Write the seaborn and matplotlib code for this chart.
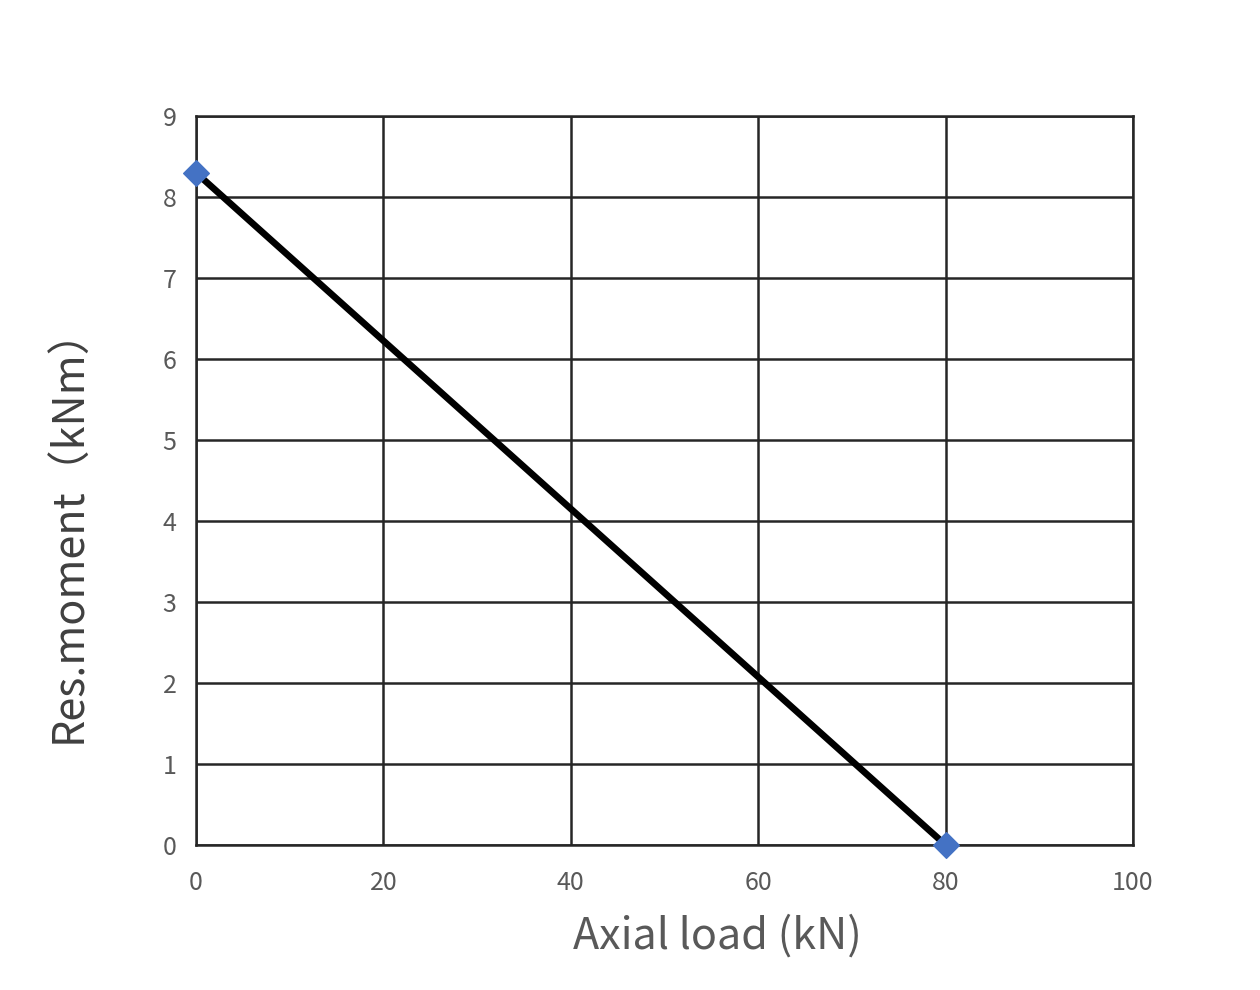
import matplotlib
matplotlib.use("Agg")
import matplotlib.pyplot as plt
import seaborn as sns
import pandas as pd

axial_load = [0, 80]
res_moment = [8.3, 0]
x_ticks = [0, 20, 40, 60, 80, 100]
y_ticks = [0, 1, 2, 3, 4, 5, 6, 7, 8, 9]

sns.set_theme(style="white")
plt.rcParams['font.family'] = ['Noto Sans CJK SC', 'DejaVu Sans']

df = pd.DataFrame({"x": axial_load, "y": res_moment})

fig = plt.figure(figsize=(12.6, 9.9), dpi=100)
ax = fig.add_axes([0.1556, 0.1465, 0.7436, 0.7363])

sns.lineplot(data=df, x="x", y="y", ax=ax, color="black", linewidth=4.8, zorder=3)
sns.scatterplot(data=df, x="x", y="y", ax=ax, marker="D", s=170, color="#4472C4",
                edgecolor="#4472C4", zorder=4, clip_on=False)

ax.set_xlim(0, 100)
ax.set_ylim(0, 9)
ax.set_xticks(x_ticks)
ax.set_yticks(y_ticks)
ax.grid(True, color="#262626", linewidth=1.8)
ax.set_axisbelow(True)
for s in ax.spines.values():
    s.set_color("#262626")
    s.set_linewidth(1.8)
ax.tick_params(axis="x", labelsize=18, colors="#595959", length=0, pad=18)
ax.tick_params(axis="y", labelsize=18, colors="#595959", length=0, pad=14)
ax.set_xlabel("Axial load (kN)", fontsize=31, color="#595959")
ax.set_ylabel("Res.moment（kNm）", fontsize=31, color="#404040")
ax.xaxis.set_label_coords(0.557, -0.096)
ax.yaxis.set_label_coords(-0.112, 0.44)

fig.savefig("out.png", dpi=100, facecolor="white")
